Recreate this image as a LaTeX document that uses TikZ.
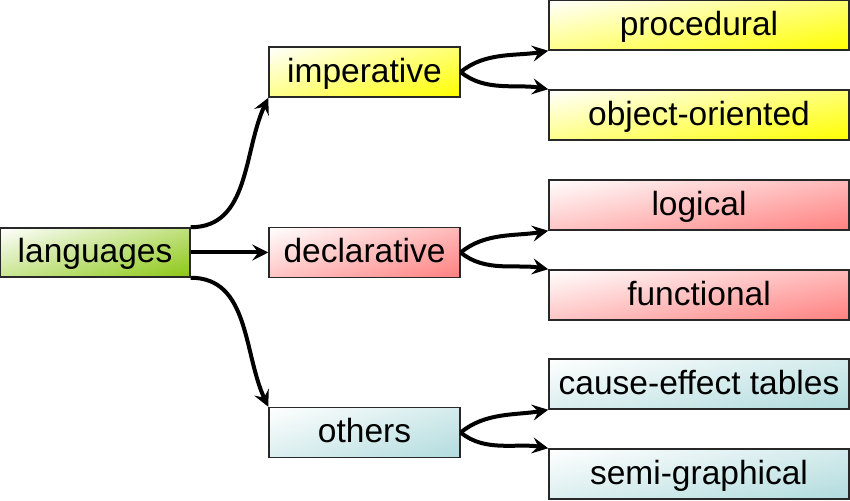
\documentclass[tikz,border=0pt]{standalone}
\usepackage{fontspec}
\setmainfont{Liberation Sans}
\usetikzlibrary{arrows.meta}
\definecolor{cgreen}{RGB}{140,200,20}
\definecolor{cyellow}{RGB}{255,255,0}
\definecolor{cred}{RGB}{255,128,128}
\definecolor{cblue}{RGB}{178,220,222}
\definecolor{cborder}{RGB}{40,40,40}
\begin{document}
\begin{tikzpicture}[x=1pt,y=1pt,
  box/.style={draw=cborder, line width=1.5pt, inner sep=0pt, minimum height=50pt,
    text height=25pt, text depth=4pt,
    font=\fontsize{33.5}{40}\selectfont, text=black},
  parent/.style={box, minimum width=191pt},
  child/.style={box, minimum width=300pt},
  shg/.style={path picture={
      \shade[left color=white, right color=#1]
        (path picture bounding box.south west) rectangle (path picture bounding box.north east);
      \shade[top color=white, bottom color=#1, opacity=0.45]
        (path picture bounding box.south west) rectangle (path picture bounding box.north east);
    }},
  conn/.style={line width=4pt, -{Stealth[length=16pt,width=16pt,inset=6pt]}}
]
\useasboundingbox (0,0) rectangle (850,500);
\node[box, minimum width=190pt, minimum height=49pt, shg=cgreen] (lang) at (95,247.5) {languages};
\node[parent, shg=cyellow] (imp) at (364.5,428) {imperative};
\node[parent, shg=cred] (dec) at (364.5,247.5) {declarative};
\node[parent, shg=cblue] (oth) at (364.5,67.5) {others};
\node[child, shg=cyellow] (proc) at (699,475) {procedural};
\node[child, shg=cyellow] (obj) at (699,385) {object-oriented};
\node[child, shg=cred] (log) at (699,295) {logical};
\node[child, shg=cred] (fun) at (699,205) {functional};
\node[child, shg=cblue] (cau) at (699,116) {cause-effect tables};
\node[child, shg=cblue] (sem) at (699,26) {semi-graphical};

\draw[conn] (lang.north east) to[out=0,in=-115] (imp.south west);
\draw[conn] (lang.east) -- (dec.west);
\draw[conn] (lang.south east) to[out=0,in=115] (oth.north west);

\draw[conn] (imp.east) to[out=40,in=190,looseness=0.9] (proc.south west);
\draw[conn] (imp.east) to[out=-40,in=170,looseness=0.9] (obj.north west);
\draw[conn] (dec.east) to[out=40,in=190,looseness=0.9] (log.south west);
\draw[conn] (dec.east) to[out=-40,in=170,looseness=0.9] (fun.north west);
\draw[conn] (oth.east) to[out=40,in=190,looseness=0.9] (cau.south west);
\draw[conn] (oth.east) to[out=-40,in=170,looseness=0.9] (sem.north west);
\end{tikzpicture}
\end{document}
